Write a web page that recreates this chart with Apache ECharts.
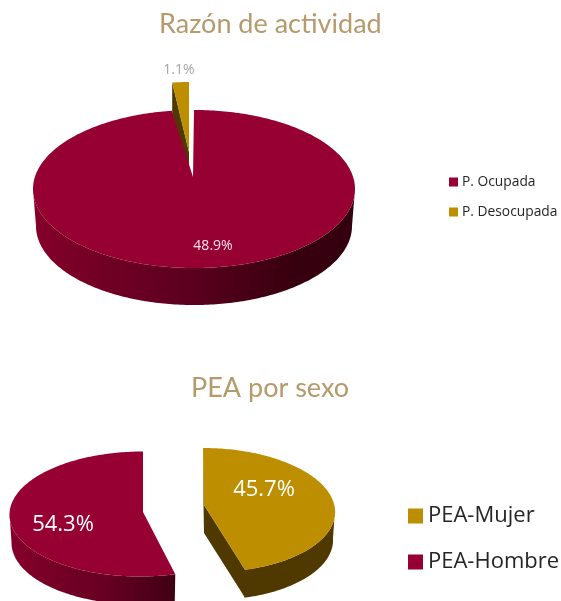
<!DOCTYPE html>
<html><head><meta charset="utf-8">
<style>html,body{margin:0;padding:0;background:#fff}#c{width:561px;height:601px}</style>
<script src="https://cdn.jsdelivr.net/npm/echarts@6/dist/echarts.min.js"></script>
</head><body><div id="c"></div>
<script>
// Data
const activityCategories = ['P. Ocupada', 'P. Desocupada'];
const activityValues = [48.9, 1.1];
const sexCategories = ['PEA-Mujer', 'PEA-Hombre'];
const sexValues = [45.7, 54.3];
const titles = ['Razón de actividad', 'PEA por sexo'];

// Styles and projection of each slice (ellipse of the top face, apex, wall depth)
const WINE = '#960032', GOLD = '#BC8E00', GOLD_WALL = '#4F3900';
const wineWall = [[0,'#84002B'],[0.5,'#5A001E'],[0.8,'#38000F'],[1,'#33000F']];
const wineWall2 = [[0,'#84002B'],[0.6,'#660022'],[1,'#3F0014']];
const goldWall = [[0,GOLD_WALL],[1,GOLD_WALL]];

function piePoint(g, th, inset){
  const r = th*Math.PI/180;
  return [g.cx + (g.rx-(inset||0))*Math.sin(r) - (g.skew||0)*Math.cos(r), g.cy - g.ry*Math.cos(r)];
}
function makeRender(values, idx, g){
  const total = values.reduce((a,b)=>a+b,0);
  const start = values.slice(0,idx).reduce((a,b)=>a+b,0)/total*360;
  return function(params, api){
    const v = api.value(0);
    const end = start + v/total*360;
    const children = [];
    // outer wall: front half of the ellipse only; its lower rim is slightly narrower
    const a = Math.max(start,90), b = Math.min(end,270);
    if (b > a){
      const angles = [];
      for (let t=a; t<b; t+=1) angles.push(t);
      angles.push(b);
      const pts = angles.map(t=>piePoint(g,t)).concat(angles.slice().reverse().map(t=>{
        const p = piePoint(g,t,g.inset); return [p[0],p[1]+g.depth];
      }));
      const stops = g.wall.map(s=>({offset:s[0],color:s[1]}));
      children.push({type:'polygon',shape:{points:pts},
        style:{fill:{type:'linear',x:0,y:0,x2:1,y2:0,colorStops:stops}}});
    }
    // cut faces
    if (g.cutWalls){
      const apex=[g.ax,g.ay];
      [start,end].forEach(t=>{
        const p=piePoint(g,t);
        children.push({type:'polygon',shape:{points:[apex,p,[p[0],p[1]+g.depth],[apex[0],apex[1]+g.depth]]},style:{fill:g.cutColor}});
      });
    }
    // top face
    const face=[[g.ax,g.ay]];
    for (let t=start; t<end; t+=1) face.push(piePoint(g,t));
    face.push(piePoint(g,end));
    children.push({type:'polygon',shape:{points:face},style:{fill:g.color}});
    children.push({type:'text',x:g.lx,y:g.ly,style:{text:v.toFixed(1)+'%',fill:g.labelColor,
      font:g.labelFont,align:'center',verticalAlign:'middle'}});
    return {type:'group',children};
  };
}

const FONT_S = '14px "Open Sans"', FONT_L = '22px "Open Sans"';
const geoOcupada = {cx:194,cy:189,rx:161,ry:79,ax:193,ay:177,depth:37,inset:3,color:WINE,wall:wineWall,
  lx:213,ly:246,labelColor:'#F4E6EA',labelFont:FONT_S};
const geoDesocupada = {cx:189,cy:142,rx:122,ry:60,ax:189,ay:152,depth:30,color:GOLD,wall:goldWall,cutWalls:true,cutColor:GOLD_WALL,
  lx:179,ly:70,labelColor:'#A6A6A6',labelFont:FONT_S};
const geoMujer = {cx:207,cy:510,rx:128,ry:62,skew:4,ax:204,ay:505,depth:28,inset:2,color:GOLD,wall:goldWall,cutWalls:true,cutColor:GOLD_WALL,
  lx:264,ly:490,labelColor:'#FFFFFF',labelFont:FONT_L};
const geoHombre = {cx:141.5,cy:514,rx:132,ry:62.5,skew:-1.5,ax:143,ay:512,depth:28,inset:2,color:WINE,wall:wineWall2,
  lx:63,ly:525,labelColor:'#FFFFFF',labelFont:FONT_L};

function sliceSeries(name, values, i, g){
  return {type:'custom',name,coordinateSystem:'none',silent:true,animation:false,clip:false,
    itemStyle:{color:g.color},data:[[values[i]]],renderItem:makeRender(values,i,g)};
}

const chart = echarts.init(document.getElementById('c'),null,{renderer:'canvas'});
chart.setOption({
  animation:false,
  backgroundColor:'#fff',
  title:[
    {text:titles[0],left:159,top:11,padding:0,textStyle:{fontFamily:'Lato',fontWeight:'normal',fontSize:27,color:'#B59A6C'}},
    {text:titles[1],left:191,top:375,padding:0,textStyle:{fontFamily:'Lato',fontWeight:'normal',fontSize:27,color:'#B59A6C'}}
  ],
  legend:[
    {data:activityCategories,orient:'vertical',left:449,top:175,padding:0,icon:'rect',itemWidth:9,itemHeight:9,itemGap:16,selectedMode:false,
      textStyle:{fontFamily:'Open Sans',fontSize:13.8,color:'#262626',padding:[0,0,0,-1]}},
    {data:sexCategories,orient:'vertical',left:408,top:505,padding:0,icon:'rect',itemWidth:15,itemHeight:15,itemGap:24,selectedMode:false,
      textStyle:{fontFamily:'Open Sans',fontSize:22,color:'#262626',padding:[0,0,0,0]}}
  ],
  series:[
    sliceSeries(activityCategories[1],activityValues,1,geoDesocupada),
    sliceSeries(activityCategories[0],activityValues,0,geoOcupada),
    sliceSeries(sexCategories[0],sexValues,0,geoMujer),
    sliceSeries(sexCategories[1],sexValues,1,geoHombre)
  ]
});
</script></body></html>
